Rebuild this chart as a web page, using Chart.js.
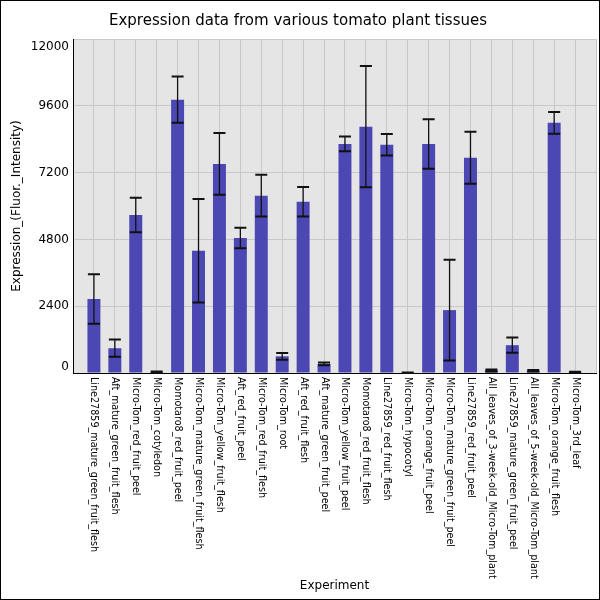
<!DOCTYPE html>
<html>
<head>
<meta charset="utf-8">
<script src="https://cdn.jsdelivr.net/npm/chart.js@4"></script>
<style>
  body { margin: 0; background: #fff; }
</style>
</head>
<body>
<canvas id="tissueChart" width="600" height="600"></canvas>
<script>
// data
const tissues = [
    'Line27859_mature_green_fruit_flesh',
    'Aft_mature_green_fruit_flesh',
    'Micro-Tom_red_fruit_peel',
    'Micro-Tom_cotyledon',
    'Momotaro8_red_fruit_peel',
    'Micro-Tom_mature_green_fruit_flesh',
    'Micro-Tom_yellow_fruit_flesh',
    'Aft_red_fruit_peel',
    'Micro-Tom_red_fruit_flesh',
    'Micro-Tom_root',
    'Aft_red_fruit_flesh',
    'Aft_mature_green_fruit_peel',
    'Micro-Tom_yellow_fruit_peel',
    'Momotaro8_red_fruit_flesh',
    'Line27859_red_fruit_flesh',
    'Micro-Tom_hypocotyl',
    'Micro-Tom_orange_fruit_peel',
    'Micro-Tom_mature_green_fruit_peel',
    'Line27859_red_fruit_peel',
    'All_leaves_of_3-week-old_Micro-Tom_plant',
    'Line27859_mature_green_fruit_peel',
    'All_leaves_of_5-week-old_Micro-Tom_plant',
    'Micro-Tom_orange_fruit_flesh',
    'Micro-Tom_3rd_leaf'
];
const expression = [2660, 890, 5680, 30, 9820, 4390, 7510, 4850, 6370, 600, 6150, 330,
    8230, 8850, 8200, 10, 8230, 2260, 7730, 90, 1000, 80, 8990, 30];
const stdDev = [890, 310, 620, 20, 830, 1860, 1110, 370, 750, 120, 530, 50,
    265, 2180, 385, 10, 890, 1810, 935, 35, 275, 25, 390, 15];
const yTicks = [0, 2400, 4800, 7200, 9600, 12000];

// empty slot on each side so bars sit on the grid lines like the original
const labels = ['', ...tissues, ''];
const values = [null, ...expression, null];
const errors = [null, ...stdDev, null];

const frame = {
    id: 'frame',
    beforeDraw(chart) {
        const { ctx, chartArea: a } = chart;
        ctx.save();
        ctx.fillStyle = '#fff';
        ctx.fillRect(0, 0, chart.width, chart.height);
        ctx.fillStyle = '#e5e5e5';
        ctx.fillRect(a.left, a.top, a.right - a.left, a.bottom - a.top);
        ctx.restore();

        // end labels of the y axis sit inside the plot, as in the original
        const items = chart.scales.y.getLabelItems();
        if (items.length) {
            items[0].options.translation[1] -= 6;
            items[items.length - 1].options.translation[1] += 8;
        }
    },
    afterDraw(chart) {
        const { ctx } = chart;
        ctx.save();
        ctx.strokeStyle = '#000';
        ctx.lineWidth = 1;
        ctx.strokeRect(0.5, 0.5, chart.width - 1, chart.height - 1);
        ctx.restore();
    }
};

// x labels read top to bottom, so draw them here
const downLabels = {
    id: 'downLabels',
    afterDraw(chart) {
        const { ctx, scales: { x }, chartArea: a } = chart;
        ctx.save();
        ctx.font = '9.6px "DejaVu Sans"';
        ctx.fillStyle = '#000';
        ctx.textAlign = 'left';
        ctx.textBaseline = 'middle';
        labels.forEach((lab, i) => {
            if (!lab) return;
            ctx.save();
            ctx.translate(x.getPixelForTick(i), a.bottom + 4);
            ctx.rotate(Math.PI / 2);
            ctx.fillText(lab, 0, 0);
            ctx.restore();
        });
        ctx.restore();
    }
};

const errorBars = {
    id: 'errorBars',
    afterDatasetsDraw(chart) {
        const { ctx, scales: { y } } = chart;
        const bars = chart.getDatasetMeta(0).data;
        ctx.save();
        ctx.strokeStyle = '#111';
        bars.forEach((bar, i) => {
            if (values[i] === null) return;
            const hi = y.getPixelForValue(values[i] + errors[i]);
            const lo = y.getPixelForValue(Math.max(values[i] - errors[i], 0));
            ctx.lineWidth = 1.3;
            ctx.beginPath();
            ctx.moveTo(bar.x, hi);
            ctx.lineTo(bar.x, lo);
            ctx.stroke();
            ctx.lineWidth = 2;
            ctx.beginPath();
            ctx.moveTo(bar.x - 6, hi);
            ctx.lineTo(bar.x + 6, hi);
            ctx.moveTo(bar.x - 6, lo);
            ctx.lineTo(bar.x + 6, lo);
            ctx.stroke();
        });
        ctx.restore();
    }
};

document.addEventListener('DOMContentLoaded', () => {
    const ctx = document.getElementById('tissueChart').getContext('2d');

    new Chart(ctx, {
        type: 'bar',
        data: {
            labels: labels,
            datasets: [{
                data: values,
                backgroundColor: '#4b47b3',
                barPercentage: 0.62,
                categoryPercentage: 1
            }]
        },
        options: {
            responsive: false,
            animation: false,
            layout: { padding: { right: 4, left: 0, top: 0, bottom: 0 } },
            plugins: {
                legend: false,
                tooltip: { enabled: false },
                title: {
                    display: true,
                    text: 'Expression data from various tomato plant tissues',
                    color: '#000',
                    font: { family: 'DejaVu Sans', size: 15, weight: 'normal' },
                    padding: { top: 12, bottom: 9 }
                }
            },
            scales: {
                x: {
                    offset: false,
                    grid: { offset: false, color: '#c8c8c8', drawTicks: false },
                    border: { color: '#000' },
                    ticks: { display: false },
                    title: {
                        display: true,
                        text: 'Experiment',
                        color: '#000',
                        font: { family: 'DejaVu Sans', size: 12 },
                        padding: { top: 0, bottom: 7 }
                    },
                    afterFit(scale) { scale.height = 227; }
                },
                y: {
                    min: 0,
                    max: 12000,
                    afterBuildTicks(scale) { scale.ticks = yTicks.map(v => ({ value: v })); },
                    grid: { color: '#c8c8c8', drawTicks: false },
                    border: { color: '#000' },
                    ticks: {
                        color: '#000',
                        padding: 4,
                        font: { family: 'DejaVu Sans', size: 12 },
                        callback: v => String(v)
                    },
                    title: {
                        display: true,
                        text: 'Expression_(Fluor._Intensity)',
                        color: '#000',
                        font: { family: 'DejaVu Sans', size: 12 },
                        padding: { top: 10, bottom: 0 }
                    },
                    afterFit(scale) { scale.width = 73; }
                }
            }
        },
        plugins: [frame, downLabels, errorBars]
    });
});
</script>
</body>
</html>
